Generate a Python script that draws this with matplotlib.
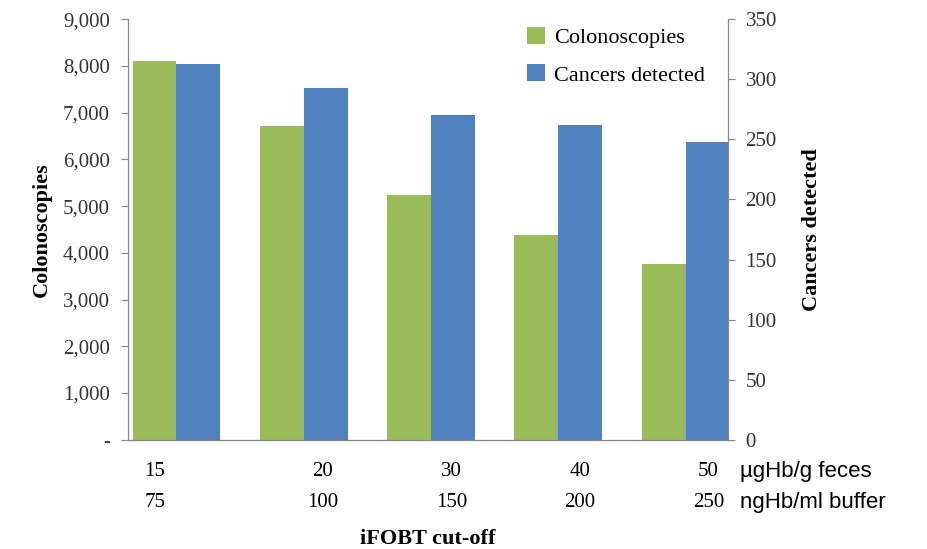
import matplotlib.pyplot as plt
import numpy as np

cutoff_ug = ["15", "20", "30", "40", "50"]
cutoff_ng = ["75", "100", "150", "200", "250"]
colonoscopies = [8100, 6715, 5240, 4380, 3765]
cancers = [313, 293, 270, 262, 248]

green = "#9bbb59"
blue = "#4f81bd"
serif = "Liberation Serif"

fig = plt.figure(figsize=(9.28, 5.49), dpi=100)
ax = fig.add_axes([0.138, 0.199, 0.646, 0.766])
ax2 = ax.twinx()

x = np.arange(len(cutoff_ug))
w = 0.345
ax.bar(x - w / 2, colonoscopies, w, color=green, label="Colonoscopies")
ax2.bar(x + w / 2, cancers, w, color=blue, label="Cancers detected")

ax.set_xlim(-0.38, 4.33)
ax.set_ylim(0, 9000)
ax2.set_ylim(0, 350)
ax.set_yticks(range(0, 9001, 1000))
ax.set_yticklabels(["-"] + [f"{v:,}" for v in range(1000, 9001, 1000)])
ax2.set_yticks(range(0, 351, 50))

for a in (ax, ax2):
    a.spines["top"].set_visible(False)
    for s in ("left", "right", "bottom"):
        a.spines[s].set_color("#868686")
    a.tick_params(axis="y", labelsize=15, colors="#333333", color="#868686", length=5, pad=8)
    for lab in a.get_yticklabels():
        lab.set_fontfamily(serif)
ax.set_xticks([])

ax.set_ylabel("Colonoscopies", fontsize=16, fontweight="bold", fontfamily=serif, labelpad=8)
ax2.set_ylabel("Cancers detected", fontsize=16, fontweight="bold", fontfamily=serif, labelpad=18)

# tick labels below the axis, as in the original layout
label_x = [-0.17, 1.15, 2.16, 3.17, 4.18]
tr = ax.get_xaxis_transform()
for lx, a, b in zip(label_x, cutoff_ug, cutoff_ng):
    ax.text(lx, -0.075, a, transform=tr, ha="center", va="center", fontsize=15, fontfamily=serif)
    ax.text(lx, -0.15, b, transform=tr, ha="center", va="center", fontsize=15, fontfamily=serif)
ax.text(1.02, -0.075, "µgHb/g feces", transform=ax.transAxes, ha="left", va="center", fontsize=16, fontfamily="Liberation Sans")
ax.text(1.02, -0.15, "ngHb/ml buffer", transform=ax.transAxes, ha="left", va="center", fontsize=16, fontfamily="Liberation Sans")
ax.text(0.5, -0.235, "iFOBT cut-off", transform=ax.transAxes, ha="center", va="center", fontsize=16, fontweight="bold", fontfamily=serif)

h1, l1 = ax.get_legend_handles_labels()
h2, l2 = ax2.get_legend_handles_labels()
ax2.legend(h1 + h2, l1 + l2, loc="upper right", bbox_to_anchor=(0.995, 1.03), frameon=False,
           prop={"family": serif, "size": 16}, handlelength=0.8, handleheight=0.8,
           labelspacing=0.75, handletextpad=0.4)

plt.savefig("out.png", dpi=100)
